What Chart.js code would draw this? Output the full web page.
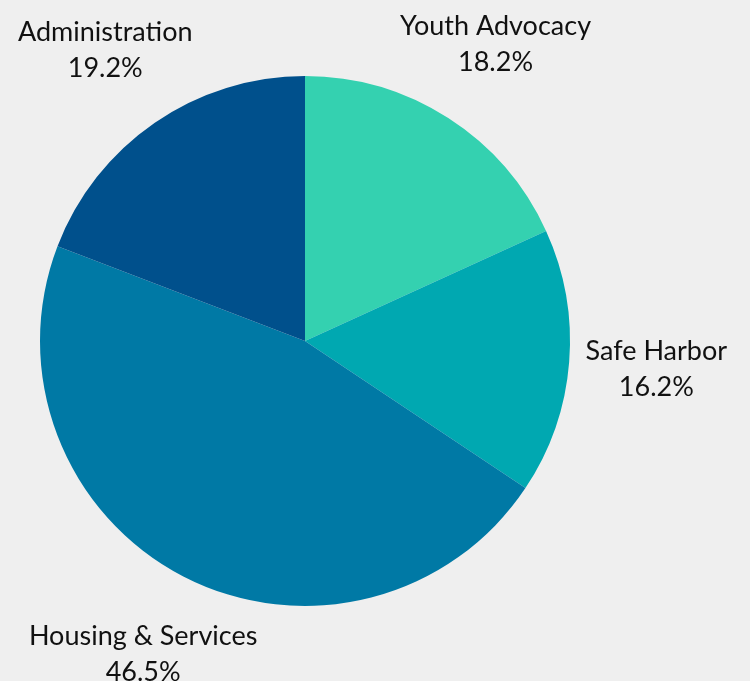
<!DOCTYPE html>
<html>
<head>
<meta charset="utf-8">
<script src="https://cdn.jsdelivr.net/npm/chart.js@4/dist/chart.umd.min.js"></script>
<style>
  html, body { margin: 0; padding: 0; background: #efefef; }
  #wrap { width: 750px; height: 681px; }
</style>
</head>
<body>
<div id="wrap"><canvas id="pie"></canvas></div>
<script>
// data
const labels = ['Youth Advocacy', 'Safe Harbor', 'Housing & Services', 'Administration'];
const values = [18.2, 16.2, 46.5, 19.2];
const colors = ['#34d1b0', '#00a8b1', '#0079a5', '#00508c'];

// labels sit outside each slice, along its middle angle
const outsideLabels = {
    id: 'outsideLabels',
    afterDatasetsDraw(chart) {
        const ctx = chart.ctx;
        const meta = chart.getDatasetMeta(0);
        ctx.save();
        ctx.fillStyle = '#111';
        ctx.font = '27px Lato';
        ctx.textAlign = 'center';
        ctx.textBaseline = 'middle';
        meta.data.forEach((arc, i) => {
            const mid = (arc.startAngle + arc.endAngle) / 2;
            const r = arc.outerRadius * 1.33;
            const x = arc.x + Math.cos(mid) * r;
            const y = arc.y + Math.sin(mid) * r;
            ctx.fillText(labels[i], x, y - 18);
            ctx.fillText(values[i].toFixed(1) + '%', x, y + 18);
        });
        ctx.restore();
    }
};

new Chart(document.getElementById('pie'), {
    type: 'pie',
    data: {
        labels: labels,
        datasets: [{
            data: values,
            backgroundColor: colors,
            borderWidth: 0
        }]
    },
    options: {
        responsive: true,
        maintainAspectRatio: false,
        animation: false,
        layout: { padding: { top: 76, bottom: 75, left: 40, right: 180 } },
        plugins: {
            legend: { display: false },
            tooltip: { enabled: false }
        }
    },
    plugins: [outsideLabels]
});
</script>
</body>
</html>
